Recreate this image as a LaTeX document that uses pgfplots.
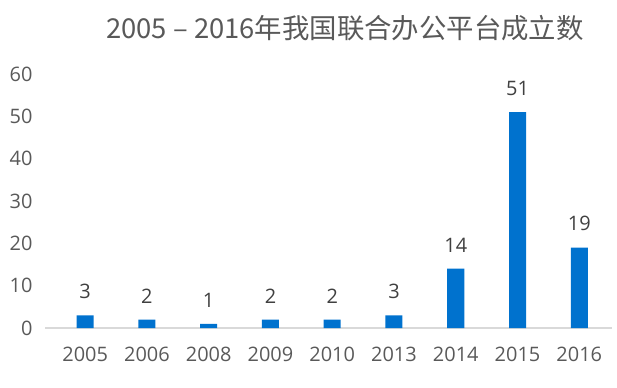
\documentclass[border=0pt]{standalone}
\usepackage{pgfplots}
\pgfplotsset{compat=1.18}
\usepackage{fontspec}
\setmainfont{Open Sans}
\newfontfamily\cjk{Noto Sans CJK SC}
\definecolor{barblue}{RGB}{0,114,206}
\definecolor{txtgray}{RGB}{89,89,89}
\definecolor{lblgray}{RGB}{64,64,64}
\definecolor{basegray}{RGB}{217,217,217}
\begin{document}
\begin{tikzpicture}[x=1bp,y=1bp]
\path[use as bounding box] (0,0) rectangle (617,387);
\begin{axis}[
  at={(45bp,59bp)}, anchor=south west,
  scale only axis, width=567bp, height=254bp,
  xmin=-0.65, xmax=8.53, ymin=0, ymax=60,
  axis x line*=bottom, axis y line=none,
  x axis line style={draw=basegray, line width=1.2bp, -},
  ytick={0,10,...,60},
  xtick={0,...,8},
  xticklabels={2005,2006,2008,2009,2010,2013,2014,2015,2016},
  major tick length=0pt,
  ticklabel style={font=\fontsize{20}{22}\selectfont, text=txtgray},
  /pgf/number format/assume math mode=true,
  xticklabel style={yshift=-16bp},
  clip=false,
]
\addplot[ybar, bar width=17bp, fill=barblue, draw=none,
  nodes near coords, nodes near coords style={font=\fontsize{20}{22}\selectfont, text=lblgray, yshift=13bp}]
  coordinates {(0,3)(1,2)(2,1)(3,2)(4,2)(5,3)(6,14)(7,51)(8,19)};
\end{axis}
\foreach \v/\yy in {0/59,10/101.33,20/143.67,30/186,40/228.33,50/270.67,60/313}{
  \node[anchor=east, text=txtgray, font=\fontsize{20}{22}\selectfont] at (36,\yy) {\v};
}
\node[text=txtgray, font=\cjk\fontsize{27.5}{30}\selectfont] at (345,359) {2005 – 2016年我国联合办公平台成立数};
\end{tikzpicture}
\end{document}
